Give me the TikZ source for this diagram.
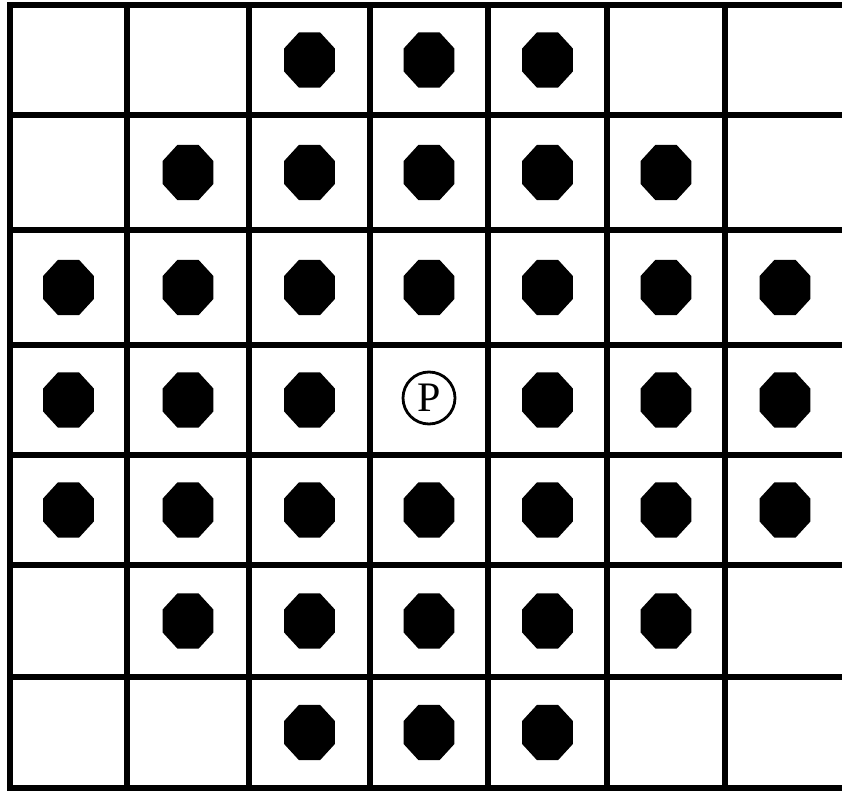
\documentclass[tikz,border=0pt]{standalone}
\usepackage{fontspec}
\setmainfont{Liberation Serif}
\usetikzlibrary{shapes.geometric}
\begin{document}
\begin{tikzpicture}[x=1pt,y=-1pt,
  gridline/.style={line width=5.8pt,black},
  dot/.style={shape=regular polygon,regular polygon sides=8,fill=black,inner sep=0pt,
    minimum size=55pt,yscale=1.09,transform shape},
  pmark/.style={circle,draw,line width=2.8pt,minimum size=52pt,inner sep=0pt,
    font=\fontsize{42}{42}\selectfont}]
\useasboundingbox (0,0) rectangle (842,791);
\fill[white] (0,0) rectangle (842,791);
\begin{scope}
\clip (0,0) rectangle (842,791);
% vertical lines
\foreach \x in {10,127,249,370,488,607,725}
  \draw[gridline] (\x,5) -- (\x,788);
% horizontal lines
\foreach \y in {5,115,230,345,455,565,677,788}
  \draw[gridline] (7.1,\y) -- (850,\y);
\end{scope}
% cell centres
\def\cx#1{\ifcase#1\or 68.5\or 188\or 309.5\or 429\or 547.5\or 666\or 785\fi}
\def\cy#1{\ifcase#1\or 60\or 172.5\or 287.5\or 400\or 510\or 621\or 732.5\fi}
% dots
\foreach \r/\c in {1/3,1/4,1/5,
  2/2,2/3,2/4,2/5,2/6,
  3/1,3/2,3/3,3/4,3/5,3/6,3/7,
  4/1,4/2,4/3,4/5,4/6,4/7,
  5/1,5/2,5/3,5/4,5/5,5/6,5/7,
  6/2,6/3,6/4,6/5,6/6,
  7/3,7/4,7/5}
  \node[dot] (d\r\c) at (\cx{\c},\cy{\r}) {};
\node[pmark] (p) at (429,398) {P};
\end{tikzpicture}
\end{document}
